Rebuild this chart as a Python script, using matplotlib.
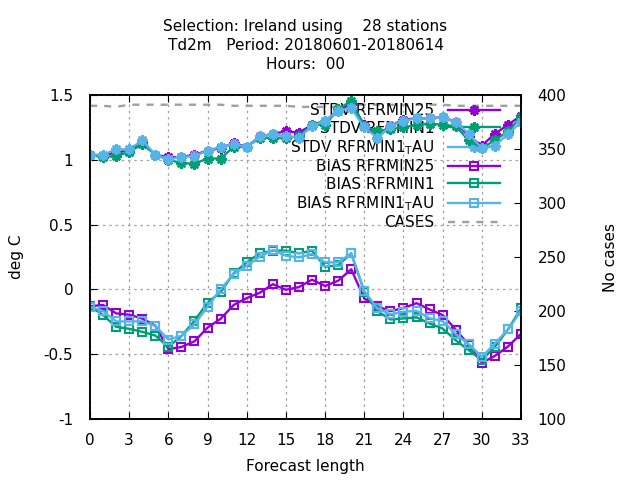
import numpy as np
import matplotlib
matplotlib.use('Agg')
import matplotlib.pyplot as plt

plt.rcParams['font.family'] = 'DejaVu Sans'
plt.rcParams['axes.unicode_minus'] = False
plt.rcParams['mathtext.default'] = 'regular'

hours = list(range(34))

stdv_rfrmin25 = [1.04, 1.03, 1.06, 1.07, 1.14, 1.04, 1.02, 1.02, 1.04, 1.07, 1.09, 1.13,
                 1.10, 1.18, 1.20, 1.22, 1.21, 1.27, 1.30, 1.38, 1.43, 1.27, 1.17, 1.26,
                 1.31, 1.32, 1.32, 1.33, 1.29, 1.18, 1.11, 1.20, 1.27, 1.34]
stdv_rfrmin1 = [1.04, 1.02, 1.03, 1.06, 1.12, 1.04, 1.00, 0.975, 0.97, 1.01, 1.01, 1.10,
                1.10, 1.17, 1.17, 1.17, 1.18, 1.27, 1.27, 1.39, 1.455, 1.26, 1.22, 1.24,
                1.25, 1.27, 1.28, 1.27, 1.26, 1.15, 1.09, 1.15, 1.22, 1.33]
stdv_rfrmin1_tau = [1.04, 1.04, 1.08, 1.08, 1.15, 1.04, 1.005, 1.02, 1.03, 1.07, 1.10, 1.12,
                    1.10, 1.18, 1.20, 1.18, 1.17, 1.26, 1.30, 1.38, 1.40, 1.25, 1.17, 1.26,
                    1.30, 1.32, 1.32, 1.33, 1.29, 1.20, 1.09, 1.11, 1.20, 1.29]

bias_rfrmin25 = [-0.13, -0.12, -0.185, -0.195, -0.225, -0.28, -0.46, -0.445, -0.40, -0.295,
                 -0.227, -0.12, -0.067, -0.026, 0.04, -0.003, 0.018, 0.075, 0.026, 0.067,
                 0.155, -0.07, -0.13, -0.168, -0.144, -0.106, -0.155, -0.198, -0.31, -0.428,
                 -0.567, -0.513, -0.441, -0.343]
bias_rfrmin1 = [-0.13, -0.198, -0.289, -0.304, -0.327, -0.356, -0.443, -0.36, -0.242, -0.103,
                -0.021, 0.124, 0.209, 0.278, 0.299, 0.299, 0.278, 0.299, 0.175, 0.186,
                0.278, -0.018, -0.168, -0.232, -0.224, -0.216, -0.263, -0.302, -0.392, -0.469,
                -0.546, -0.443, -0.309, -0.147]
bias_rfrmin1_tau = [-0.134, -0.168, -0.247, -0.247, -0.247, -0.281, -0.387, -0.358, -0.27, -0.134,
                    0.0, 0.119, 0.18, 0.253, 0.304, 0.26, 0.247, 0.273, 0.209, 0.209,
                    0.278, -0.013, -0.147, -0.193, -0.173, -0.165, -0.222, -0.245, -0.345, -0.423,
                    -0.52, -0.418, -0.309, -0.168]

cases = [390, 390, 389, 391, 391, 391, 391, 391, 391, 391, 391, 390,
         390, 390, 390, 390, 389, 389, 389, 389, 391, 391, 391, 391,
         391, 391, 391, 391, 390, 390, 390, 390, 390, 390]

purple = '#9400d3'
green = '#009e73'
blue = '#56b4e9'
grey = '#a0a0a0'

star = (8, 2, 0)

fig = plt.figure(figsize=(6.4, 4.8), dpi=100)
ax = fig.add_axes([90 / 640, 1 - 419 / 480, 431 / 640, 324 / 480])
ax2 = ax.twinx()
ax.set_zorder(ax2.get_zorder() + 1)
ax.patch.set_visible(False)

l1, = ax.plot(hours, stdv_rfrmin25, color=purple, lw=1.7, marker=star, ms=7.5, mew=1.8,
              label='STDV RFRMIN25')
l2, = ax.plot(hours, stdv_rfrmin1, color=green, lw=1.7, marker=star, ms=7.5, mew=1.8,
              label='STDV RFRMIN1')
l3, = ax.plot(hours, stdv_rfrmin1_tau, color=blue, lw=1.7, marker=star, ms=7.5, mew=1.8,
              label='STDV RFRMIN1$_{T}$AU')
l4, = ax.plot(hours, bias_rfrmin25, color=purple, lw=1.7, marker='s', ms=5.5, mew=1.5,
              mfc='none', label='BIAS RFRMIN25')
l5, = ax.plot(hours, bias_rfrmin1, color=green, lw=1.7, marker='s', ms=5.5, mew=1.5,
              mfc='none', label='BIAS RFRMIN1')
l6, = ax.plot(hours, bias_rfrmin1_tau, color=blue, lw=1.7, marker='s', ms=5.5, mew=1.5,
              mfc='none', label='BIAS RFRMIN1$_{T}$AU')
l7, = ax2.plot(hours, cases, color=grey, lw=1.7, linestyle=(0, (3, 3)), label='CASES')

ax.set_xlim(0, 33)
ax.set_ylim(-1, 1.5)
ax2.set_ylim(100, 400)

ax.set_xticks(range(0, 34, 3))
ax.set_yticks([-1, -0.5, 0, 0.5, 1, 1.5])
ax.set_yticklabels(['-1', '-0.5', '0', '0.5', '1', '1.5'])
ax2.set_yticks(range(100, 401, 50))

ax.grid(True, color=grey, linestyle=(0, (2, 3)), lw=0.9)
ax.tick_params(axis='x', direction='in', top=True, length=5, pad=10, labelsize=11)
ax.tick_params(axis='y', direction='in', length=5, pad=12, labelsize=11)
ax2.tick_params(axis='y', direction='in', length=5, pad=12, labelsize=11)

for a in (ax, ax2):
    for spine in a.spines.values():
        spine.set_linewidth(1.2)

ax.set_xlabel('Forecast length', fontsize=11, labelpad=8)
ax.set_ylabel('deg C', fontsize=11, labelpad=14)
ax2.set_ylabel('No cases', fontsize=11, labelpad=26)

ax.set_title('Selection: Ireland using    28 stations\nTd2m   Period: 20180601-20180614\nHours:  00',
             fontsize=11, pad=19, linespacing=1.33)

leg = ax.legend(handles=[l1, l2, l3, l4, l5, l6, l7], loc='upper right',
                bbox_to_anchor=(0.951, 0.975), markerfirst=False, frameon=False,
                fontsize=11, handlelength=3.4, handletextpad=0.9, labelspacing=0.16,
                borderpad=0, borderaxespad=0)
leg.set_zorder(0.5)

fig.savefig('out.png', dpi=100)
